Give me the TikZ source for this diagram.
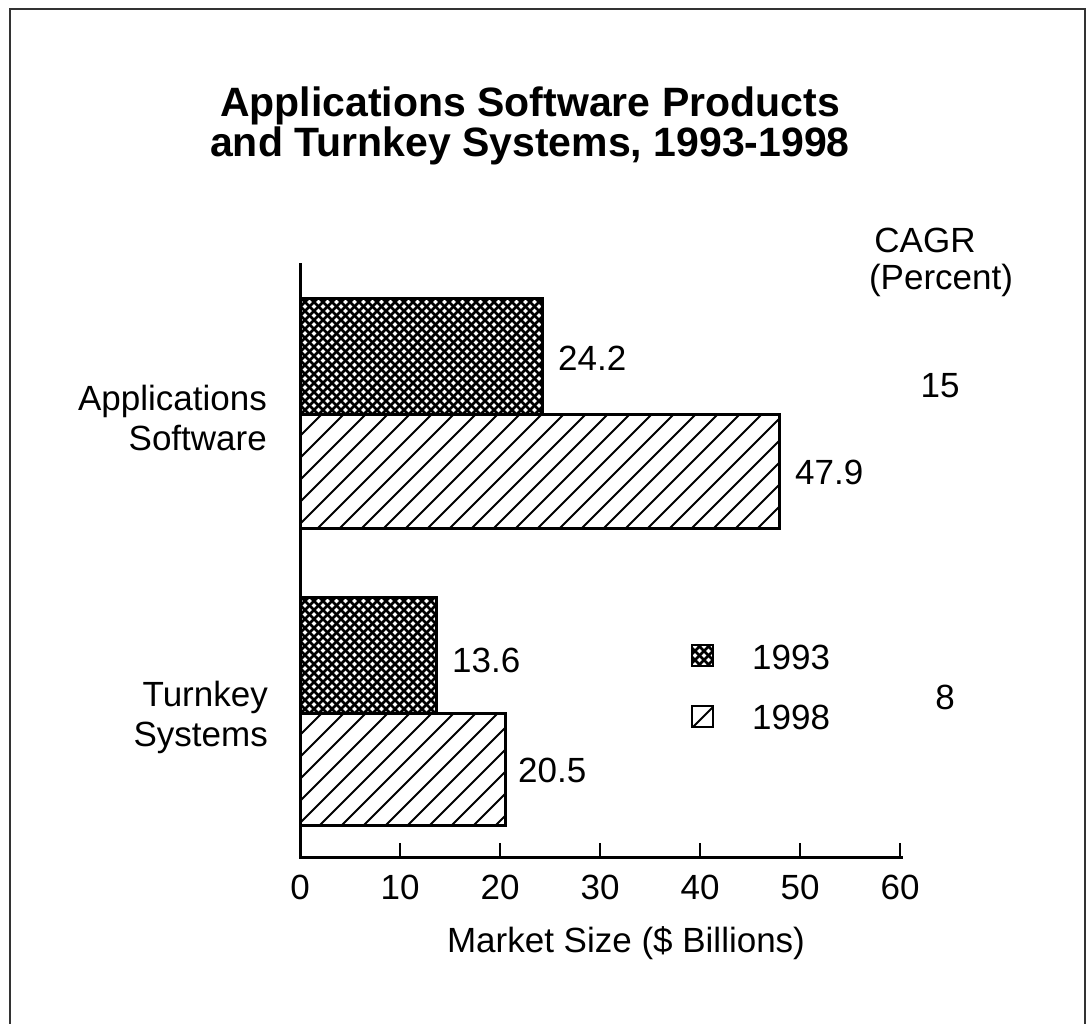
\documentclass[tikz,border=0pt]{standalone}
\usepackage{fontspec}
\setmainfont{Liberation Sans}

% "/" hatching inside the box (#1,#2)-(#3,#4), y axis pointing down
\newcommand\slashfill[4]{%
  \begin{scope}
    \clip (#1,#2) rectangle (#3,#4);
    \pgfmathtruncatemacro\ca{#1+#2-22}
    \pgfmathtruncatemacro\cb{#3+#4+22}
    \pgfmathtruncatemacro\cn{\ca+22}
    \foreach \c in {\ca,\cn,...,\cb}
      \draw[hatch] (\c-#2,#2) -- (\c-#4,#4);
  \end{scope}}

% dense cross-hatching inside the box (#1,#2)-(#3,#4)
\newcommand\crossfill[4]{%
  \begin{scope}
    \clip (#1,#2) rectangle (#3,#4);
    \pgfmathtruncatemacro\ca{#1+#2-9}
    \pgfmathtruncatemacro\cb{#3+#4+9}
    \pgfmathtruncatemacro\cn{\ca+9}
    \foreach \c in {\ca,\cn,...,\cb}
      \draw[xhatch] (\c-#2,#2) -- (\c-#4,#4);
    \pgfmathtruncatemacro\da{#1-#4-9}
    \pgfmathtruncatemacro\db{#3-#2+9}
    \pgfmathtruncatemacro\dn{\da+9}
    \foreach \c in {\da,\dn,...,\db}
      \draw[xhatch] (\c+#2,#2) -- (\c+#4,#4);
  \end{scope}}

\begin{document}
\begin{tikzpicture}[x=1pt,y=-1pt,
  txt/.style={font=\fontsize{35}{40}\selectfont, inner sep=0pt},
  ttl/.style={font=\fontsize{41}{40}\selectfont\bfseries, inner sep=0pt, align=center},
  barline/.style={line width=3pt},
  hatch/.style={line width=2pt},
  xhatch/.style={line width=2.5pt},
  axisline/.style={line width=3pt},
  tick/.style={line width=2.6pt}]
\useasboundingbox (0,0) rectangle (1089,1024);
\fill[white] (0,0) rectangle (1089,1024);

% outer frame
\draw[line width=2pt, black!80] (10,9) rectangle (1085,1040);

% title
\node[ttl] (title) at (530,126) {Applications Software Products\\and Turnkey Systems, 1993-1998};

% bars: Applications Software
\crossfill{300}{298}{542}{414}
\draw[barline] (300,298) rectangle (542,414);
\slashfill{300}{414}{779}{528}
\draw[barline] (300,414) rectangle (779,528);

% bars: Turnkey Systems
\crossfill{300}{597}{436}{713}
\draw[barline] (300,597) rectangle (436,713);
\slashfill{300}{713}{505}{825}
\draw[barline] (300,713) rectangle (505,825);

% axes
\coordinate (ytop) at (300,265);
\coordinate (origin) at (300,857);
\coordinate (xend) at (901,857);
\draw[axisline, line cap=rect] (ytop) -- (origin) -- (xend);
\foreach \v in {10,20,...,60}
  \draw[tick] (300+\v*10,857) -- (300+\v*10,843);

% tick labels
\foreach \v in {0,10,...,60}
  \node[txt] (t\v) at (300+\v*10,887) {\v};
\node[txt] (xlabel) at (626,943) {Market Size (\$ Billions)};

% category labels
\node[txt, align=right, anchor=east] (cat1) at (267,418) {Applications\\Software};
\node[txt, align=right, anchor=east] (cat2) at (268,717) {Turnkey\\Systems};

% value labels
\node[txt, anchor=west] (v1) at (558,358) {24.2};
\node[txt, anchor=west] (v2) at (795,472) {47.9};
\node[txt, anchor=west] (v3) at (452,660) {13.6};
\node[txt, anchor=west] (v4) at (518,770) {20.5};

% CAGR column
\node[txt] (cagr) at (925,240) {CAGR};
\node[txt] (pct) at (941,280) {(Percent)};
\node[txt] (g1) at (940,386) {15};
\node[txt] (g2) at (945,697) {8};

% legend
\crossfill{692}{645}{713}{666}
\draw[line width=2.4pt] (692,645) rectangle (713,666);
\slashfill{692}{706}{713}{727}
\draw[line width=2.4pt] (692,706) rectangle (713,727);
\node[txt, anchor=west] (l1) at (752,657) {1993};
\node[txt, anchor=west] (l2) at (752,717) {1998};
\end{tikzpicture}
\end{document}
